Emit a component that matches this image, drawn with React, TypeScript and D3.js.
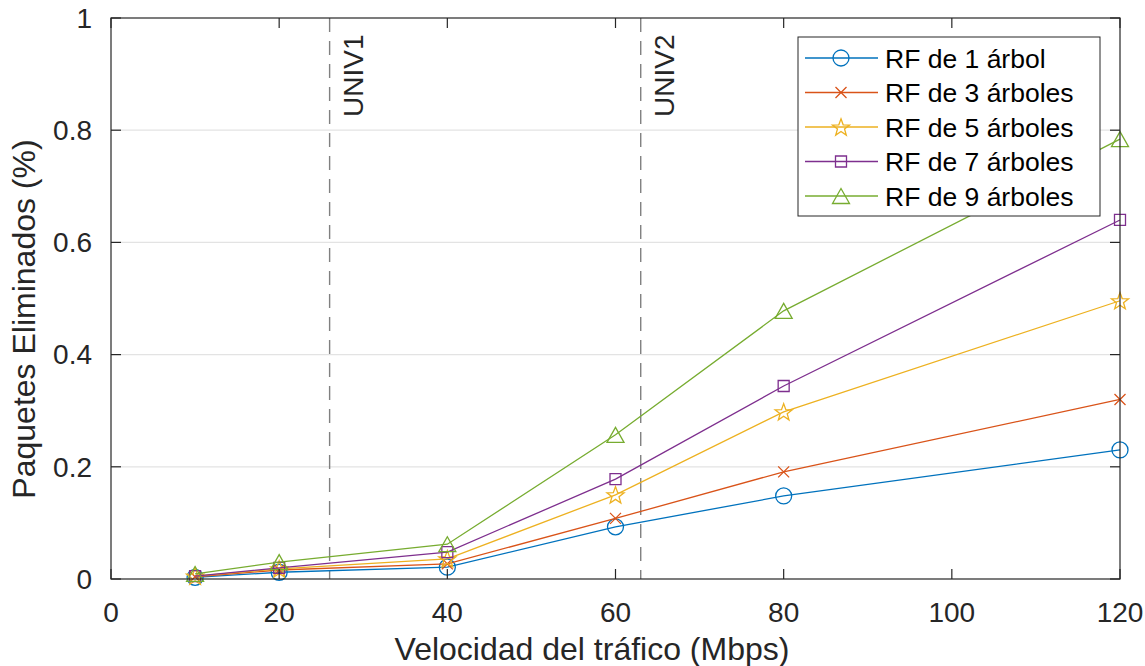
import React, { useEffect, useRef } from 'react';
import * as d3 from 'd3';

// traffic speed (Mbps) on the x axis
const speeds = [10, 20, 40, 60, 80, 120];

// dropped packets (%) for each random forest size
const rf1 = [0.003, 0.012, 0.021, 0.093, 0.148, 0.230];
const rf3 = [0.004, 0.016, 0.027, 0.108, 0.191, 0.320];
const rf5 = [0.005, 0.018, 0.036, 0.150, 0.298, 0.496];
const rf7 = [0.005, 0.020, 0.048, 0.178, 0.344, 0.640];
const rf9 = [0.009, 0.030, 0.062, 0.257, 0.478, 0.784];

const seriesNames = ['RF de 1 árbol', 'RF de 3 árboles', 'RF de 5 árboles', 'RF de 7 árboles', 'RF de 9 árboles'];
const seriesValues = [rf1, rf3, rf5, rf7, rf9];
const seriesColors = ['#0072BD', '#D95319', '#EDB120', '#7E2F8E', '#77AC30'];
const seriesMarkers = ['circle', 'cross', 'star', 'square', 'triangle'];

const xTicks = [0, 20, 40, 60, 80, 100, 120];
const yTicks = [0, 0.2, 0.4, 0.6, 0.8, 1];

const univSpeeds = [26, 63];
const univLabels = ['UNIV1', 'UNIV2'];

const FONT = '"Liberation Sans", Arial, Helvetica, sans-serif';
const AXIS = '#262626';

const markerPath = (kind: string): string => {
  if (kind === 'circle') {
    const p = d3.path();
    p.arc(0, 0, 8, 0, Math.PI * 2);
    return p.toString();
  }
  if (kind === 'cross') {
    const s = 5.5;
    return `M${-s},${-s}L${s},${s}M${-s},${s}L${s},${-s}`;
  }
  if (kind === 'square') {
    const s = 5.5;
    return `M${-s},${-s}H${s}V${s}H${-s}Z`;
  }
  if (kind === 'triangle') {
    return 'M0,-7.5L8.5,7.5L-8.5,7.5Z';
  }
  // pentagram
  const pts: [number, number][] = [];
  for (let i = 0; i < 10; i++) {
    const r = i % 2 === 0 ? 9 : 3.7;
    const a = -Math.PI / 2 + (i * Math.PI) / 5;
    pts.push([r * Math.cos(a), r * Math.sin(a) + 0.8]);
  }
  return 'M' + pts.map((p) => p.join(',')).join('L') + 'Z';
};

const App = () => {
  const svgRef = useRef<SVGSVGElement>(null);

  useEffect(() => {
    document.body.style.margin = '0';
    const w = 1145;
    const h = 666;
    const left = 111;
    const right = 1120;
    const top = 18;
    const bottom = 579;

    const svg = d3.select(svgRef.current).attr('width', w).attr('height', h);
    svg.selectAll('*').remove();

    const xScale = d3.scaleLinear().domain([0, 120]).range([left, right]);
    const yScale = d3.scaleLinear().domain([0, 1]).range([bottom, top]);

    svg.append('rect').attr('width', w).attr('height', h).attr('fill', 'white');

    // horizontal grid
    svg.append('g')
      .selectAll('line')
      .data(yTicks.slice(1, -1))
      .enter()
      .append('line')
      .attr('x1', left)
      .attr('x2', right)
      .attr('y1', (d) => yScale(d))
      .attr('y2', (d) => yScale(d))
      .attr('stroke', '#e3e3e3')
      .attr('stroke-width', 1.2);

    // UNIV dashed markers
    svg.append('g')
      .selectAll('line')
      .data(univSpeeds)
      .enter()
      .append('line')
      .attr('x1', (d) => xScale(d))
      .attr('x2', (d) => xScale(d))
      .attr('y1', top)
      .attr('y2', bottom)
      .attr('stroke', '#808080')
      .attr('stroke-width', 1.4)
      .attr('stroke-dasharray', '14,9');

    svg.append('g')
      .selectAll('text')
      .data(univSpeeds)
      .enter()
      .append('text')
      .text((d, i) => univLabels[i])
      .attr('transform', (d) => `translate(${xScale(d) + 33},${top + 99}) rotate(-90)`)
      .attr('font-family', FONT)
      .attr('font-size', '28px')
      .attr('fill', AXIS);

    // series
    const line = d3.line<number>()
      .x((d, i) => xScale(speeds[i]))
      .y((d) => yScale(d));

    seriesValues.forEach((vals, k) => {
      const g = svg.append('g');
      g.append('path')
        .datum(vals)
        .attr('d', line)
        .attr('fill', 'none')
        .attr('stroke', seriesColors[k])
        .attr('stroke-width', 1.3);
      g.selectAll('path.mk')
        .data(vals)
        .enter()
        .append('path')
        .attr('class', 'mk')
        .attr('d', markerPath(seriesMarkers[k]))
        .attr('transform', (d, i) => `translate(${xScale(speeds[i])},${yScale(d)})`)
        .attr('fill', 'none')
        .attr('stroke', seriesColors[k])
        .attr('stroke-width', 1.3);
    });

    // legend
    const lg = svg.append('g');
    lg.append('rect')
      .attr('x', 798)
      .attr('y', 37)
      .attr('width', 302)
      .attr('height', 179)
      .attr('fill', 'white')
      .attr('stroke', AXIS)
      .attr('stroke-width', 1);
    seriesNames.forEach((name, k) => {
      const cy = 58 + k * 34.5;
      lg.append('line')
        .attr('x1', 805)
        .attr('x2', 878)
        .attr('y1', cy)
        .attr('y2', cy)
        .attr('stroke', seriesColors[k])
        .attr('stroke-width', 1.3);
      lg.append('path')
        .attr('d', markerPath(seriesMarkers[k]))
        .attr('transform', `translate(841,${cy})`)
        .attr('fill', 'none')
        .attr('stroke', seriesColors[k])
        .attr('stroke-width', 1.3);
      lg.append('text')
        .text(name)
        .attr('x', 885)
        .attr('y', cy + 9.5)
        .attr('font-family', FONT)
        .attr('font-size', '26.5px')
        .attr('fill', '#000');
    });

    // axes box and inward ticks
    const ax = svg.append('g').attr('stroke', AXIS).attr('stroke-width', 1.2);
    ax.append('rect')
      .attr('x', left)
      .attr('y', top)
      .attr('width', right - left)
      .attr('height', bottom - top)
      .attr('fill', 'none');
    xTicks.forEach((t) => {
      ax.append('line').attr('x1', xScale(t)).attr('x2', xScale(t)).attr('y1', bottom).attr('y2', bottom - 10);
      ax.append('line').attr('x1', xScale(t)).attr('x2', xScale(t)).attr('y1', top).attr('y2', top + 10);
    });
    yTicks.forEach((t) => {
      ax.append('line').attr('x1', left).attr('x2', left + 10).attr('y1', yScale(t)).attr('y2', yScale(t));
      ax.append('line').attr('x1', right).attr('x2', right - 10).attr('y1', yScale(t)).attr('y2', yScale(t));
    });

    svg.append('g')
      .selectAll('text')
      .data(xTicks)
      .enter()
      .append('text')
      .text((d) => d)
      .attr('x', (d) => xScale(d))
      .attr('y', 622)
      .attr('text-anchor', 'middle')
      .attr('font-family', FONT)
      .attr('font-size', '28px')
      .attr('fill', AXIS);

    svg.append('g')
      .selectAll('text')
      .data(yTicks)
      .enter()
      .append('text')
      .text((d) => d)
      .attr('x', 92)
      .attr('y', (d) => yScale(d))
      .attr('dy', '0.35em')
      .attr('text-anchor', 'end')
      .attr('font-family', FONT)
      .attr('font-size', '28px')
      .attr('fill', AXIS);

    svg.append('text')
      .text('Velocidad del tráfico (Mbps)')
      .attr('x', 592)
      .attr('y', 660)
      .attr('text-anchor', 'middle')
      .attr('font-family', FONT)
      .attr('font-size', '32px')
      .attr('fill', AXIS);

    svg.append('text')
      .text('Paquetes Eliminados (%)')
      .attr('transform', 'translate(35,319) rotate(-90)')
      .attr('text-anchor', 'middle')
      .attr('font-family', FONT)
      .attr('font-size', '32px')
      .attr('fill', AXIS);
  }, []);

  return <svg ref={svgRef} style={{ display: 'block' }}></svg>;
};

export default App;
